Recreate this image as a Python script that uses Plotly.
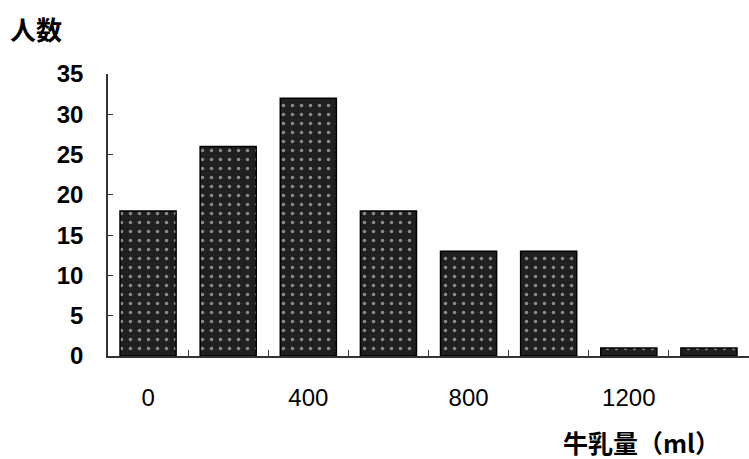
import plotly.graph_objects as go

# Milk intake (ml) categories and number of people in each
milk_ml = ["0", "200", "400", "600", "800", "1000", "1200", "1400"]
people = [18, 26, 32, 18, 13, 13, 1, 1]
shown_ticks = ["0", "400", "800", "1200"]
y_ticks = [0, 5, 10, 15, 20, 25, 30, 35]

W, H = 749, 459
L, R, T, B = 108, 0, 74, 103
plot_w = W - L - R
plot_h = H - T - B


def px_x(px):
    return (px - L) / plot_w


def px_y(py):
    return (H - B - py) / plot_h


fig = go.Figure(
    go.Bar(
        x=milk_ml,
        y=people,
        width=0.7,
        marker=dict(
            color="#1e1e1e",
            line=dict(color="#000000", width=1.5),
            pattern=dict(
                shape=".",
                fgcolor="#f4f4f4",
                bgcolor="#202020",
                size=9,
                solidity=0.12,
                fillmode="overlay",
            ),
        ),
        hoverinfo="skip",
    )
)

fig.update_layout(
    width=W,
    height=H,
    margin=dict(l=L, r=R, t=T, b=B, pad=0),
    paper_bgcolor="white",
    plot_bgcolor="white",
    showlegend=False,
    font=dict(family="Liberation Sans, Arial, sans-serif", color="#000000"),
    annotations=[
        dict(
            text="<b>人数</b>",
            xref="paper", yref="paper",
            x=px_x(8), y=px_y(28),
            xanchor="left", yanchor="middle",
            showarrow=False,
            font=dict(family="Noto Sans CJK JP", size=26, color="#000000"),
        ),
        dict(
            text="<b>牛乳量（ml）</b>",
            xref="paper", yref="paper",
            x=px_x(722), y=px_y(442),
            xanchor="right", yanchor="middle",
            showarrow=False,
            font=dict(family="Noto Sans CJK JP", size=25, color="#000000"),
        ),
    ],
)

fig.update_xaxes(
    type="category",
    categoryorder="array",
    categoryarray=milk_ml,
    range=[-0.5, len(milk_ml) - 0.5],
    tickmode="array",
    tickvals=milk_ml,
    ticktext=[c if c in shown_ticks else "" for c in milk_ml],
    tickson="boundaries",
    ticks="inside",
    ticklen=6,
    tickwidth=1,
    tickcolor="#333333",
    showline=True,
    linecolor="#333333",
    linewidth=1.5,
    showgrid=False,
    zeroline=False,
    ticklabelstandoff=19,
    tickfont=dict(family="Liberation Sans, Arial, sans-serif", size=24, color="#000000"),
)

fig.update_yaxes(
    range=[0, 35],
    tickmode="array",
    tickvals=y_ticks,
    ticktext=[f"<b>{v}</b>" for v in y_ticks],
    ticks="inside",
    ticklen=5,
    tickwidth=1,
    tickcolor="#333333",
    showline=True,
    linecolor="#333333",
    linewidth=1.5,
    showgrid=False,
    zeroline=False,
    ticklabelstandoff=18,
    tickfont=dict(family="Liberation Sans, Arial, sans-serif", size=24, color="#000000"),
)

fig.write_html("out.html")
